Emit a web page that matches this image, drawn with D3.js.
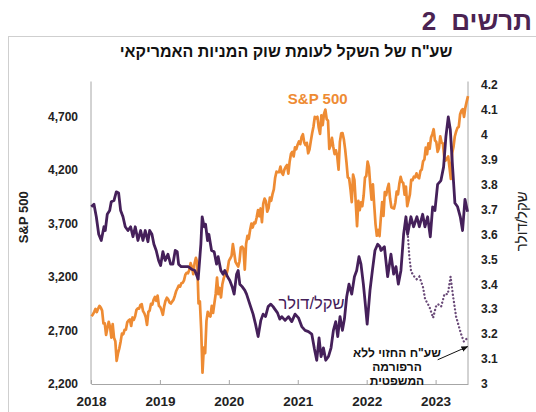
<!DOCTYPE html>
<html><head><meta charset="utf-8">
<script src="https://cdn.jsdelivr.net/npm/d3@7"></script>
<style>
html,body{margin:0;padding:0;background:#fff;}
svg{display:block;}
text{font-family:"Liberation Sans",Arial,"DejaVu Sans",sans-serif;}
</style></head>
<body>
<svg id="chart" width="536" height="412"></svg>
<script>
// ---------- DATA ----------
const years = [2018, 2019, 2020, 2021, 2022, 2023];
const spxTicks = [2200, 2700, 3200, 3700, 4200, 4700];
const ilsTicks = [3, 3.1, 3.2, 3.3, 3.4, 3.5, 3.6, 3.7, 3.8, 3.9, 4, 4.1, 4.2];

// S&P 500 weekly closes (as plotted)
const spxStart = 2018.008;
const spxStep = 7 / 365.25;
const spxValues = [
 2833,2850,2875,2902,2872,2905,2930,2914,2886,2767,2768,2659,2723,2781,2736,2633,2760,2633,2600,2417,2486,
 2532,2596,2671,2665,2707,2708,2776,2793,2804,2743,2822,2800,2834,2893,2907,2905,2940,2946,2881,2860,2826,2752,2873,2887,2950,2942,2990,3014,2977,3026,2932,2919,2889,2847,2926,2979,3007,2992,2962,2952,2970,2986,3023,3067,3093,3120,3110,3141,3146,3169,3221,3240,
 3235,3265,3330,3295,3226,3328,3380,3338,2954,2972,2711,2305,2541,2489,2790,2875,2837,2831,2930,2864,2955,3044,3194,3041,3098,3009,3130,3185,3225,3216,3271,3351,3373,3397,3508,3427,3341,3319,3298,3348,3477,3484,3465,3270,3509,3585,3558,3638,3699,3663,3709,3703,
 3756,3825,3768,3841,3714,3887,3934,3907,3811,3842,3943,3913,3975,4020,4129,4185,4180,4181,4233,4174,4156,4204,4230,4247,4166,4281,4352,4370,4327,4412,4395,4437,4468,4442,4509,4535,4459,4433,4455,4357,4391,4471,4545,4605,4697,4683,4698,4595,4538,4712,4621,4725,
 4766,4677,4663,4398,4432,4501,4419,4349,4385,4329,4204,4463,4543,4546,4488,4393,4272,4132,4123,4024,3901,4158,4109,3901,3675,3912,3825,3899,3863,3962,4130,4145,4280,4228,4058,3924,4067,3873,3693,3586,3640,3583,3752,3901,3771,3993,3965,4026,4072,3934,3852,3845,
 3840,3895,3999,3973,4071,4136,4090,4079,3970,4046,3862,3917,3971,4109,4105,4138,4133,4169,4136,4124,4192,4205,4282,4299,4410,4348,4450,4399,4505,4536,4582,4478,4464,4370,4406,4516,4457,4450,4320,4288,4308,4327,4224,4117,4358,4415,4514,4559,4595,4604,4719,4755,
 4770,4697,4784,4840,4891
];

// Shekel / dollar (actual)
const ilsT = [
 2018.004,2018.043,2018.077,2018.112,2018.149,2018.188,2018.207,2018.236,2018.271,2018.294,2018.333,2018.367,2018.401,2018.430,2018.464,2018.497,2018.536,2018.575,2018.609,2018.642,2018.681,2018.720,2018.754,2018.787,2018.826,2018.851,2018.884,2018.913,2018.946,2018.981,
 2019.010,2019.043,2019.077,2019.116,2019.155,2019.188,2019.222,2019.251,2019.271,2019.309,2019.358,2019.410,2019.459,2019.507,2019.555,2019.594,2019.613,2019.642,2019.662,2019.691,2019.710,2019.749,2019.787,2019.822,2019.845,2019.884,2019.917,2019.942,2019.981,
 2020.014,2020.048,2020.077,2020.112,2020.135,2020.159,2020.193,2020.232,2020.257,2020.304,2020.352,2020.387,2020.425,2020.464,2020.497,2020.532,2020.570,2020.609,2020.642,2020.667,2020.706,2020.739,2020.768,2020.816,2020.865,2020.913,2020.961,
 2021.010,2021.058,2021.106,2021.155,2021.203,2021.242,2021.275,2021.309,2021.338,2021.372,2021.406,2021.445,2021.483,2021.517,2021.551,2021.580,2021.613,2021.648,2021.677,2021.710,2021.743,2021.783,2021.822,2021.855,2021.888,2021.917,2021.952,2021.975,
 2022.007,2022.048,2022.083,2022.120,2022.159,2022.193,2022.207,2022.257,2022.304,2022.352,2022.391,2022.425,2022.459,2022.497,2022.536,2022.570,2022.594,2022.642,2022.681,2022.729,2022.764,2022.812,2022.845,2022.884,2022.923,2022.957,2022.990,
 2023.029,2023.077,2023.116,2023.149,2023.184,2023.213,2023.246,2023.280,2023.319,2023.358,2023.391,2023.426,2023.464
];
const ilsV = [
 3.71,3.72,3.67,3.60,3.575,3.63,3.615,3.68,3.695,3.73,3.735,3.77,3.765,3.695,3.67,3.63,3.615,3.63,3.59,3.63,3.575,3.615,3.575,3.615,3.57,3.615,3.60,3.56,3.535,3.495,
 3.475,3.53,3.495,3.52,3.48,3.48,3.535,3.53,3.48,3.47,3.47,3.47,3.46,3.455,3.42,3.56,3.67,3.63,3.64,3.575,3.60,3.535,3.53,3.48,3.51,3.455,3.44,3.455,3.43,
 3.415,3.39,3.36,3.44,3.455,3.40,3.39,3.375,3.36,3.32,3.28,3.24,3.19,3.255,3.28,3.27,3.31,3.32,3.31,3.30,3.285,3.26,3.27,3.255,3.27,3.25,3.28,
 3.265,3.23,3.215,3.21,3.20,3.14,3.095,3.185,3.11,3.145,3.095,3.11,3.145,3.215,3.25,3.19,3.27,3.215,3.26,3.35,3.40,3.36,3.43,3.455,3.51,3.48,3.40,3.335,
 3.24,3.375,3.455,3.535,3.56,3.55,3.535,3.55,3.43,3.52,3.44,3.47,3.40,3.455,3.60,3.67,3.60,3.67,3.63,3.67,3.63,3.68,3.63,3.67,3.59,3.71,3.695,
 3.80,3.815,3.87,3.99,4.07,4.02,3.87,3.725,3.71,3.67,3.615,3.74,3.69
];

// Predicted shekel / dollar without the judicial reform
const predT = [2022.599,2022.619,2022.645,2022.691,2022.725,2022.764,2022.816,2022.848,2022.909,2022.964,2023.004,2023.033,2023.080,2023.128,2023.177,2023.217,2023.249,2023.297,2023.370,2023.410,2023.446];
const predV = [3.59,3.51,3.45,3.43,3.42,3.43,3.39,3.34,3.31,3.265,3.31,3.32,3.31,3.36,3.36,3.43,3.36,3.27,3.20,3.17,3.18];

// Texts
const mainTitle = "תרשים 2";
const chartTitle = 'שע"ח של השקל לעומת שוק המניות האמריקאי';
const leftAxisTitle = "S&P 500";
const rightAxisTitle = "שקל/דולר";
const spxLabel = "S&P 500";
const ilsLabel = "שקל/דולר";
const noteLines = ['שע"ח החזוי ללא', "הרפורמה", "המשפטית"];

// ---------- DRAW ----------
const ORANGE = "#EE8B33", PURPLE = "#45205A", TITLEC = "#4B2352", AX = "#a6a6a6";
const svg = d3.select("#chart");
const L = 91, R = 468, T = 84.5, B = 384;

const x = d3.scaleLinear().domain([2018, 2023.47]).range([L, R]);
const yL = d3.scaleLinear().domain([2200, 5000]).range([B, T]);
const yR = d3.scaleLinear().domain([3, 4.2]).range([B, T]);

// frame
svg.append("rect").attr("x", 8.5).attr("y", 36.5).attr("width", 700).attr("height", 500)
  .attr("fill", "none").attr("stroke", "#cfcfcf").attr("stroke-width", 1);

// titles
svg.append("text").attr("x", 532).attr("y", 30).attr("direction", "rtl").attr("text-anchor", "start")
  .attr("font-size", 26).attr("font-weight", "bold").attr("word-spacing", 8).attr("fill", TITLEC).text(mainTitle);
svg.append("text").attr("x", 286).attr("y", 57).attr("direction", "rtl").attr("text-anchor", "middle")
  .attr("font-size", 16).attr("font-weight", "bold").attr("fill", "#111").text(chartTitle);

// axes
const gL = svg.append("g").attr("transform", `translate(${L},0)`)
  .call(d3.axisLeft(yL).tickValues(spxTicks).tickFormat(d3.format(",")).tickSize(0).tickPadding(13));
const gR = svg.append("g").attr("transform", `translate(${R},0)`)
  .call(d3.axisRight(yR).tickValues(ilsTicks).tickFormat(d => String(d)).tickSize(0).tickPadding(13));
const gB = svg.append("g").attr("transform", `translate(0,${B})`)
  .call(d3.axisBottom(x).tickValues(years).tickFormat(d3.format("d")).tickSizeInner(-4).tickSizeOuter(0).tickPadding(12));
[gL, gR, gB].forEach(g => {
  g.select(".domain").attr("stroke", AX);
  g.selectAll(".tick line").attr("stroke", AX);
  g.selectAll(".tick text").attr("font-family", '"Liberation Sans",Arial,sans-serif')
    .attr("font-weight", "bold").attr("fill", "#222");
});
gL.selectAll(".tick text").attr("font-size", 12);
gR.selectAll(".tick text").attr("font-size", 12);
gB.selectAll(".tick text").attr("font-size", 13.5);
gL.select(".domain").attr("d", `M0,${B}V${T - 3}`);
gR.select(".domain").attr("d", `M0,${B}V${T - 3}`);

// axis titles
svg.append("text").attr("transform", `translate(28,${(T + B) / 2 - 17}) rotate(-90)`)
  .attr("text-anchor", "middle").attr("font-size", 13).attr("font-weight", "bold").attr("fill", "#222")
  .text(leftAxisTitle);
svg.append("text").attr("transform", `translate(527,${(T + B) / 2 - 13}) rotate(-90)`)
  .attr("direction", "rtl").attr("text-anchor", "middle").attr("font-size", 15).attr("fill", "#222")
  .text(rightAxisTitle);

// lines
const spxLine = d3.line().x((d, i) => x(spxStart + i * spxStep)).y(d => yL(d));
svg.append("path").datum(spxValues).attr("d", spxLine)
  .attr("fill", "none").attr("stroke", ORANGE).attr("stroke-width", 2.7).attr("stroke-linejoin", "round");

const ilsLine = d3.line().x(d => x(d[0])).y(d => yR(d[1]));
svg.append("path").datum(d3.zip(ilsT, ilsV)).attr("d", ilsLine)
  .attr("fill", "none").attr("stroke", PURPLE).attr("stroke-width", 2.8).attr("stroke-linejoin", "round");

svg.append("path").datum(d3.zip(predT, predV)).attr("d", ilsLine)
  .attr("fill", "none").attr("stroke", "#6a4a78").attr("stroke-width", 2.3)
  .attr("stroke-dasharray", "0.1 3.6").attr("stroke-linecap", "round");

// series labels
svg.append("text").attr("x", x(2021.29)).attr("y", yL(4750) - 7).attr("text-anchor", "middle")
  .attr("font-size", 15).attr("font-weight", "bold").attr("fill", ORANGE).text(spxLabel);
svg.append("text").attr("x", x(2021.2)).attr("y", yR(3.3)).attr("direction", "rtl").attr("text-anchor", "middle")
  .attr("font-size", 16.5).attr("fill", PURPLE).text(ilsLabel);

// annotation
const note = svg.append("text").attr("direction", "rtl").attr("text-anchor", "middle")
  .attr("font-size", 12).attr("font-weight", "bold").attr("fill", "#111");
noteLines.forEach((s, i) => note.append("tspan").attr("x", x(2022.44)).attr("y", 357 + i * 14).text(s));

svg.append("defs").append("marker").attr("id", "ah").attr("viewBox", "0 0 10 10")
  .attr("refX", 9).attr("refY", 5).attr("markerWidth", 7).attr("markerHeight", 7).attr("orient", "auto")
  .append("path").attr("d", "M0,1L10,5L0,9Z").attr("fill", "#111");
const arrowFrom = [2023.03, 3.097], arrowTo = [2023.465, 3.15];
svg.append("line").attr("x1", x(arrowFrom[0])).attr("y1", yR(arrowFrom[1]))
  .attr("x2", x(arrowTo[0])).attr("y2", yR(arrowTo[1]))
  .attr("stroke", "#111").attr("stroke-width", 1).attr("marker-end", "url(#ah)");
</script>
</body></html>
